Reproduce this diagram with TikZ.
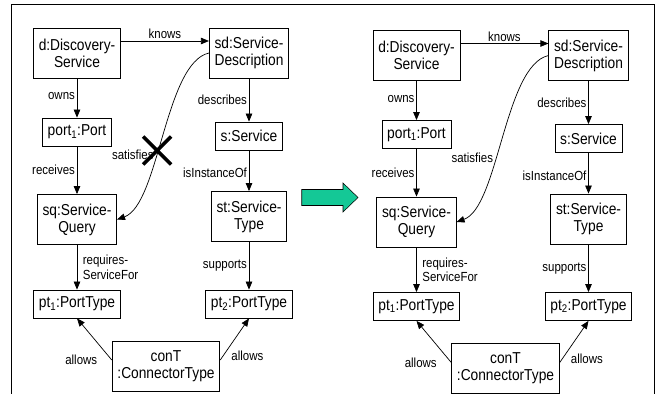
\documentclass[tikz,border=0pt]{standalone}
\usepackage{fontspec}
\setmainfont[FakeStretch=0.87]{Liberation Sans}
\usetikzlibrary{arrows.meta}
\definecolor{arrowgreen}{RGB}{20,200,150}
\tikzset{
  obj/.style={draw,line width=0.9pt,align=center,inner xsep=6pt,minimum height=1.12cm,font=\fontsize{18}{19.5}\selectfont},
  obj2/.style={obj,minimum height=2cm},
  rel/.style={line width=0.8pt,-{Triangle[length=3.2mm,width=2.6mm]}},
  lbl/.style={inner sep=2pt,font=\fontsize{15}{16.5}\selectfont},
}

\begin{document}
\begin{tikzpicture}
\useasboundingbox (0,0) rectangle (26.4,-15.76);
\draw[line width=1.2pt] (0.46,-15.76) |- (26.18,-0.17) -- (26.18,-15.76);

\foreach \p/\dx/\dy in {a/0/0, b/13.58/-0.1} {
\begin{scope}[shift={(\dx,\dy)}]
\path
(3.08,-2.12)  node[obj2] (d\p)    {d:Discovery-\\Service}
(9.96,-2.12)  node[obj2] (sd\p)   {sd:Service-\\Description}
(3.08,-5.28)  node[obj]  (port\p) {port\textsubscript{1}:Port}
(9.96,-5.44)  node[obj]  (s\p)    {s:Service}
(3.08,-8.78)  node[obj2] (sq\p)   {sq:Service-\\Query}
(9.96,-8.66)  node[obj2] (st\p)   {st:Service-\\Type}
(3.08,-12.16) node[obj]  (pta\p)  {pt\textsubscript{1}:PortType}
(9.96,-12.16) node[obj]  (ptb\p)  {pt\textsubscript{2}:PortType}
(6.64,-14.64) node[obj2] (con\p)  {conT\\:ConnectorType};

\draw[rel] ([yshift=4.8mm]d\p.east) -- ([yshift=4.8mm]sd\p.west) node[lbl,midway,above] {knows};
\draw[rel] (d\p) -- (port\p) node[lbl,pos=.45,left] {owns};
\draw[rel] (port\p) -- (sq\p) node[lbl,pos=.5,left] {receives};
\draw[rel] (sd\p) -- (s\p) node[lbl,pos=.5,left] {describes};
\draw[rel] (s\p) -- (st\p) node[lbl,pos=.56,left] {isInstanceOf};
\draw[rel] (sq\p) -- (pta\p) node[lbl,pos=.5,right=1.5mm,align=left] {requires-\\ServiceFor};
\draw[rel] (st\p) -- (ptb\p) node[lbl,pos=.5,left] {supports};
\draw[rel] ([yshift=2.4mm]con\p.west) -- (pta\p.south) node[lbl,pos=0,left=5mm] {allows};
\draw[rel] ([yshift=2.4mm]con\p.east) -- (ptb\p.south) node[lbl,pos=0.1,right=2.5mm] {allows};
\draw[rel] (sd\p.west) .. controls +(-1.76,-0.4) and +(1.68,0.6) .. (sq\p.east)
  coordinate[pos=.57] (cut\p) node[lbl,pos=.59,left=0pt] {satisfies};
\end{scope}
}

% no longer valid on the left
\draw[line width=4pt] (cuta) +(-0.56,0.56) -- +(0.56,-0.56)
  (cuta) +(0.56,0.56) -- +(-0.56,-0.56);

\draw[fill=arrowgreen,line width=0.6pt] (12.07,-7.58) -- (13.72,-7.58) -- (13.72,-7.32)
  -- (14.32,-7.9) -- (13.72,-8.48) -- (13.72,-8.22) -- (12.07,-8.22) -- cycle;
\end{tikzpicture}
\end{document}
